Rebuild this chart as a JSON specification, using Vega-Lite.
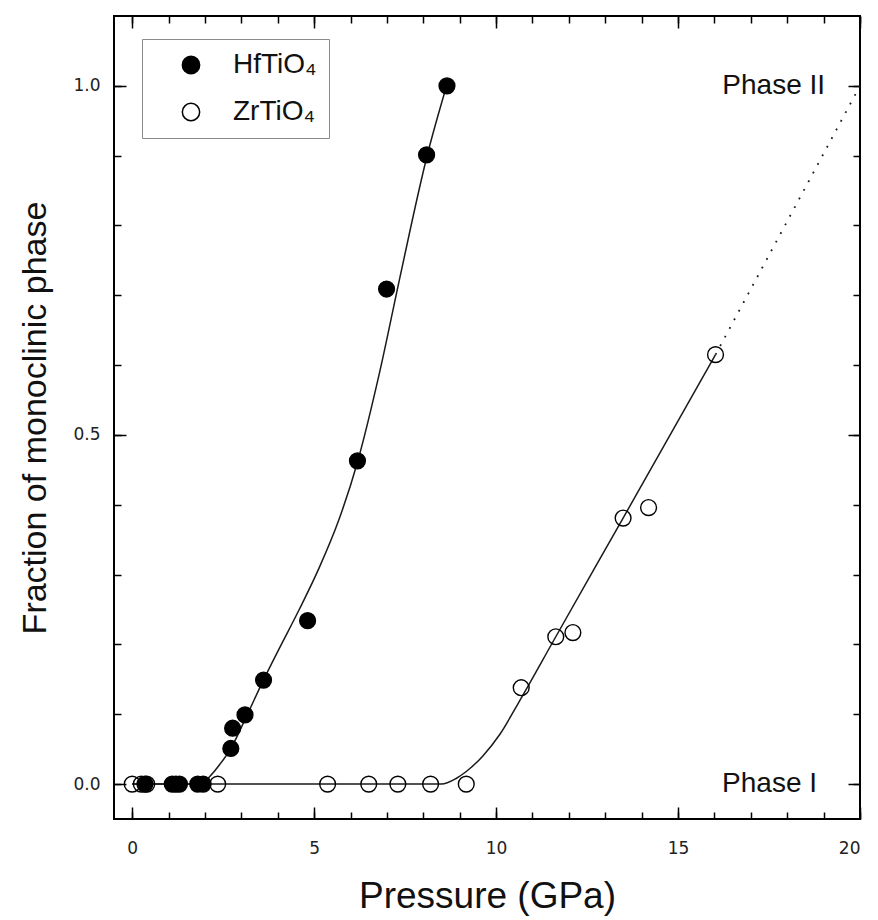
{
  "$schema": "https://vega.github.io/schema/vega-lite/v6.json",
  "width": 746,
  "height": 803,
  "autosize": {"type": "none"},
  "padding": {"left": 114, "top": 16, "right": 18, "bottom": 101},
  "background": "white",
  "datasets": {
    "points": [
      {"series": "ZrTiO₄", "P": 0.0, "F": 0},
      {"series": "ZrTiO₄", "P": 0.25, "F": 0},
      {"series": "ZrTiO₄", "P": 0.4, "F": 0},
      {"series": "ZrTiO₄", "P": 2.35, "F": 0},
      {"series": "ZrTiO₄", "P": 5.37, "F": 0},
      {"series": "ZrTiO₄", "P": 6.5, "F": 0},
      {"series": "ZrTiO₄", "P": 7.3, "F": 0},
      {"series": "ZrTiO₄", "P": 8.2, "F": 0},
      {"series": "ZrTiO₄", "P": 9.18, "F": 0},
      {"series": "ZrTiO₄", "P": 10.69, "F": 0.138},
      {"series": "ZrTiO₄", "P": 11.64, "F": 0.211},
      {"series": "ZrTiO₄", "P": 12.11, "F": 0.217},
      {"series": "ZrTiO₄", "P": 13.49, "F": 0.381},
      {"series": "ZrTiO₄", "P": 14.19, "F": 0.396},
      {"series": "ZrTiO₄", "P": 16.03, "F": 0.615},
      {"series": "HfTiO₄", "P": 0.35, "F": 0},
      {"series": "HfTiO₄", "P": 1.1, "F": 0},
      {"series": "HfTiO₄", "P": 1.2, "F": 0},
      {"series": "HfTiO₄", "P": 1.3, "F": 0},
      {"series": "HfTiO₄", "P": 1.8, "F": 0},
      {"series": "HfTiO₄", "P": 1.95, "F": 0},
      {"series": "HfTiO₄", "P": 2.71, "F": 0.051},
      {"series": "HfTiO₄", "P": 2.76, "F": 0.08},
      {"series": "HfTiO₄", "P": 3.1, "F": 0.099},
      {"series": "HfTiO₄", "P": 3.61, "F": 0.149},
      {"series": "HfTiO₄", "P": 4.82, "F": 0.234},
      {"series": "HfTiO₄", "P": 6.19, "F": 0.463},
      {"series": "HfTiO₄", "P": 6.99, "F": 0.709},
      {"series": "HfTiO₄", "P": 8.09, "F": 0.901},
      {"series": "HfTiO₄", "P": 8.65, "F": 1.0}
    ],
    "fits": [
      {"series": "HfTiO₄", "P": 0, "F": 0},
      {"series": "HfTiO₄", "P": 1.93, "F": 0},
      {"series": "HfTiO₄", "P": 2.12, "F": 0.01},
      {"series": "HfTiO₄", "P": 2.39, "F": 0.027},
      {"series": "HfTiO₄", "P": 2.72, "F": 0.052},
      {"series": "HfTiO₄", "P": 3.14, "F": 0.097},
      {"series": "HfTiO₄", "P": 3.58, "F": 0.146},
      {"series": "HfTiO₄", "P": 4.04, "F": 0.194},
      {"series": "HfTiO₄", "P": 4.59, "F": 0.25},
      {"series": "HfTiO₄", "P": 5.14, "F": 0.31},
      {"series": "HfTiO₄", "P": 5.69, "F": 0.38},
      {"series": "HfTiO₄", "P": 6.19, "F": 0.461},
      {"series": "HfTiO₄", "P": 6.8, "F": 0.59},
      {"series": "HfTiO₄", "P": 7.35, "F": 0.724},
      {"series": "HfTiO₄", "P": 8.12, "F": 0.903},
      {"series": "HfTiO₄", "P": 8.64, "F": 1.0},
      {"series": "ZrTiO₄", "P": 0, "F": 0},
      {"series": "ZrTiO₄", "P": 8.5, "F": 0},
      {"series": "ZrTiO₄", "P": 8.9, "F": 0.008},
      {"series": "ZrTiO₄", "P": 9.18, "F": 0.018},
      {"series": "ZrTiO₄", "P": 9.63, "F": 0.04},
      {"series": "ZrTiO₄", "P": 10.1, "F": 0.071},
      {"series": "ZrTiO₄", "P": 10.6, "F": 0.115},
      {"series": "ZrTiO₄", "P": 11.64, "F": 0.211},
      {"series": "ZrTiO₄", "P": 13.49, "F": 0.381},
      {"series": "ZrTiO₄", "P": 16.03, "F": 0.615}
    ],
    "extension": [
      {"P": 16.03, "F": 0.615},
      {"P": 20, "F": 1.0}
    ],
    "labels": [
      {"P": 19.04, "F": 1.0, "label": "Phase II"},
      {"P": 18.82, "F": 0.0, "label": "Phase I"}
    ]
  },
  "layer": [
    {
      "data": {"name": "fits"},
      "mark": {"type": "line", "interpolate": "monotone", "color": "#1a1a1a", "strokeWidth": 1.5},
      "encoding": {
        "x": {"field": "P", "type": "quantitative", "scale": {"domain": [-0.5, 20], "nice": false, "zero": false},
          "axis": {"orient": "bottom", "values": [0,1,2,3,4,5,6,7,8,9,10,11,12,13,14,15,16,17,18,19,20], "labels": false, "title": null, "tickSize": -7}},
        "y": {"field": "F", "type": "quantitative", "scale": {"domain": [-0.05, 1.1], "nice": false, "zero": false},
          "axis": {"orient": "left", "values": [0,0.1,0.2,0.3,0.4,0.5,0.6,0.7,0.8,0.9,1.0], "labels": false, "title": null, "tickSize": -7}},
        "detail": {"field": "series"}
      }
    },
    {
      "data": {"name": "extension"},
      "mark": {"type": "line", "color": "#1a1a1a", "strokeWidth": 1.8, "strokeDash": [1.8, 8]},
      "encoding": {
        "x": {"field": "P", "type": "quantitative", "scale": {"domain": [-0.5, 20], "nice": false, "zero": false},
          "axis": {"orient": "top", "values": [0,5,10,15,20], "labels": false, "title": null, "tickSize": -12}},
        "y": {"field": "F", "type": "quantitative", "scale": {"domain": [-0.05, 1.1], "nice": false, "zero": false},
          "axis": {"orient": "right", "values": [0,0.5,1.0], "labels": false, "title": null, "tickSize": -12}}
      }
    },
    {
      "data": {"name": "labels"},
      "mark": {"type": "text", "align": "right", "baseline": "middle", "font": "Liberation Sans", "fontSize": 28, "color": "#111"},
      "encoding": {
        "x": {"field": "P", "type": "quantitative", "scale": {"domain": [-0.5, 20], "nice": false, "zero": false},
          "axis": {"orient": "top", "values": [0,1,2,3,4,5,6,7,8,9,10,11,12,13,14,15,16,17,18,19,20], "labels": false, "title": null, "tickSize": -7}},
        "y": {"field": "F", "type": "quantitative", "scale": {"domain": [-0.05, 1.1], "nice": false, "zero": false},
          "axis": {"orient": "right", "values": [0,0.1,0.2,0.3,0.4,0.5,0.6,0.7,0.8,0.9,1.0], "labels": false, "title": null, "tickSize": -7}},
        "text": {"field": "label"}
      }
    },
    {
      "data": {"name": "points"},
      "mark": {"type": "point", "shape": "circle", "filled": true, "size": 250, "stroke": "black", "strokeWidth": 1.4, "opacity": 1},
      "encoding": {
        "x": {"field": "P", "type": "quantitative", "scale": {"domain": [-0.5, 20], "nice": false, "zero": false},
          "axis": {"orient": "bottom", "values": [0,5,10,15,20], "format": "d", "tickSize": -12, "labelPadding": 33,
            "labelFont": "DejaVu Sans", "labelFontSize": 17, "labelColor": "#222",
            "title": "Pressure (GPa)", "titleFontSize": 37, "titlePadding": 22}},
        "y": {"field": "F", "type": "quantitative", "scale": {"domain": [-0.05, 1.1], "nice": false, "zero": false},
          "axis": {"orient": "left", "values": [0,0.5,1.0], "format": ".1f", "tickSize": -12, "labelPadding": 26,
            "labelFont": "DejaVu Sans", "labelFontSize": 17, "labelColor": "#222",
            "title": "Fraction of monoclinic phase", "titleFontSize": 34, "titlePadding": 20}},
        "fill": {"field": "series", "type": "nominal",
          "scale": {"domain": ["HfTiO₄", "ZrTiO₄"], "range": ["black", "transparent"]},
          "legend": {"title": null, "orient": "none", "legendX": 28, "legendY": 23, "padding": 12,
            "strokeColor": "#8a8a8a", "fillColor": "white", "symbolType": "circle", "symbolSize": 300,
            "symbolStrokeColor": "black", "symbolStrokeWidth": 1.5, "symbolOffset": 23,
            "labelFont": "Liberation Sans", "labelFontSize": 28, "labelColor": "#111", "labelOffset": 28, "rowPadding": 19}}
      }
    }
  ],
  "resolve": {"axis": {"x": "independent", "y": "independent"}},
  "config": {
    "view": {"stroke": "black", "strokeWidth": 2},
    "axis": {"grid": false, "domain": false, "tickColor": "black", "tickWidth": 1.5,
      "labelFont": "DejaVu Sans", "labelFontSize": 17, "labelColor": "#222",
      "titleFont": "Liberation Sans", "titleFontWeight": "normal", "titleColor": "#111"}
  }
}
